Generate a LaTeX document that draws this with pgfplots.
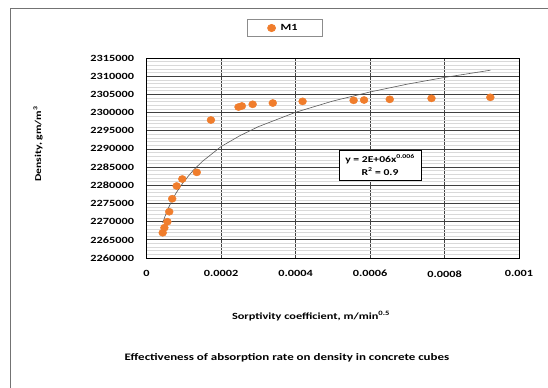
\documentclass[border=0pt]{standalone}
\usepackage{fontspec}
\setmainfont{Carlito}[FakeStretch=1.3]
\usepackage{pgfplots}
\pgfplotsset{compat=1.18}
\definecolor{mkorange}{HTML}{F07D2C}
\begin{document}
\begin{tikzpicture}[x=1bp,y=1bp]
\path[use as bounding box] (0,0) rectangle (548,-387);
\fill[white] (0,0) rectangle (548,-387);
\draw[black!55, line width=1.2bp] (10.5,-400) -- (10.5,-8.5) -- (560,-8.5);
\begin{axis}[
  at={(146.5bp,-258bp)}, anchor=south west,
  scale only axis, width=372.5bp, height=200bp,
  xmin=0, xmax=0.001, ymin=2260000, ymax=2315000,
  xtick={0,0.0002,0.0004,0.0006,0.0008,0.001},
  xticklabels={0,0.0002,0.0004,0.0006,0.0008,0.001},
  ytick={2260000,2265000,2270000,2275000,2280000,2285000,2290000,2295000,2300000,2305000,2310000,2315000},
  yticklabels={2260000,2265000,2270000,2275000,2280000,2285000,2290000,2295000,2300000,2305000,2310000,2315000},
  scaled x ticks=false, scaled y ticks=false,
  /pgf/number format/assume math mode=true,
  minor y tick num=4, minor x tick num=0,
  grid=both,
  major grid style={black!75, line width=0.8bp},
  minor grid style={black!15, line width=0.5bp},
  major tick length=0pt, minor tick length=0pt,
  axis line style={black, line width=0.8bp},
  tick label style={font=\bfseries\fontsize{9.5}{10}\selectfont},
  xticklabel style={yshift=-9bp},
  yticklabel style={xshift=-9bp},
  legend image code/.code={\draw[#1] plot coordinates {(0bp,0bp)};},
  legend style={at={(0.372,1.15)}, anchor=center, draw=black!45, line width=0.8bp,
    inner xsep=20bp, inner ysep=2.5bp, font=\bfseries\fontsize{9.5}{10}\selectfont,
    nodes={inner xsep=5bp}},
]
\addplot[only marks, mark=*, mark size=3.6bp, mark options={fill=mkorange, draw=mkorange, xscale=1.1}] coordinates {
(4.35e-5,2266950) (4.8e-5,2268330) (5.6e-5,2269980) (6.1e-5,2272730)
(6.9e-5,2276300) (8.1e-5,2279800) (9.6e-5,2281720) (1.35e-4,2283560)
(1.73e-4,2297950) (2.47e-4,2301520) (2.56e-4,2301800) (2.85e-4,2302270)
(3.39e-4,2302620) (4.19e-4,2303080) (5.56e-4,2303370) (5.84e-4,2303450)
(6.53e-4,2303640) (7.65e-4,2303910) (9.23e-4,2304190)
};
\addlegendentry{M1}
\addplot[forget plot, no marks, black!65, line width=0.6bp] coordinates {
(4.35e-5,2269650) (5e-5,2271550) (6e-5,2274040) (7e-5,2276140) (8e-5,2277970)
(1e-4,2281010) (1.25e-4,2284070) (1.5e-4,2286570) (2e-4,2290640) (2.5e-4,2293600)
(3e-4,2296110) (4e-4,2300070) (5e-4,2303160) (6e-4,2305660) (7e-4,2307810)
(8e-4,2309660) (9.23e-4,2311640)
};
\end{axis}
\node[draw=black, line width=0.8bp, fill=white, minimum width=82bp, minimum height=30bp, inner sep=1bp, align=center,
  font=\bfseries\fontsize{9}{13}\selectfont] at (380,-165) {y = 2E+06x\textsuperscript{0.006}\\R\textsuperscript{2} = 0.9};
\node[rotate=90, font=\bfseries\fontsize{9}{10}\selectfont] at (38,-144) {Density, gm/m\textsuperscript{3}};
\node[font=\bfseries\fontsize{9.5}{10}\selectfont] at (311,-316) {Sorptivity coefficient, m/min\textsuperscript{0.5}};
\node[font=\bfseries\fontsize{10}{11}\selectfont] at (287,-358) {Effectiveness of absorption rate on density in concrete cubes};
\end{tikzpicture}
\end{document}
